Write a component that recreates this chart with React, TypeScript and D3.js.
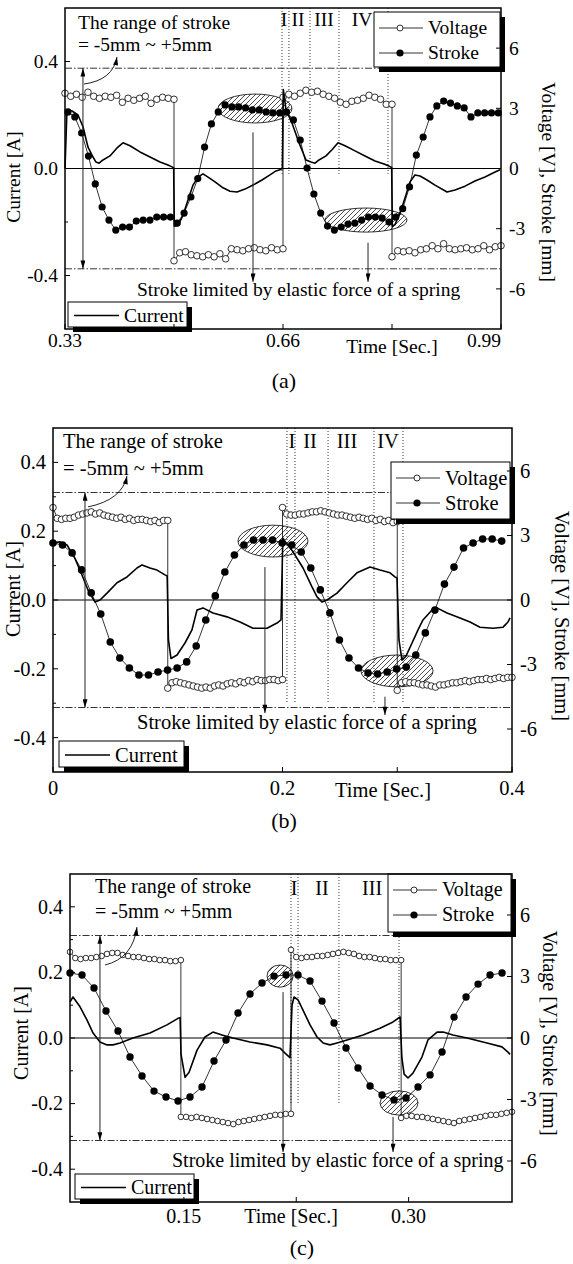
import React from "react";
import * as d3 from "d3";

const FONT = "'Liberation Serif', 'Times New Roman', serif";

// ---------- panel (a) ----------
const switchesA = [0.33, 0.495, 0.66, 0.825, 0.99];
const voltageA = [
  [3.75, 3.6, 3.7, 3.55, 3.8, 3.6, 3.5, 3.6, 3.55, 3.65, 3.3, 3.5, 3.4, 3.5, 3.6, 3.25, 3.45, 3.55, 3.5, 3.45],
  [-4.6, -4.2, -4.15, -4.3, -4.35, -4.4, -4.3, -4.4, -4.25, -4.5, -4.0, -4.05, -4.1, -4.0, -3.95, -4.05, -4.1, -3.95, -4.05, -4.0],
  [3.55, 3.7, 3.6, 3.75, 3.9, 3.8, 3.85, 3.7, 3.6, 3.5, 3.3, 3.2, 3.35, 3.4, 3.5, 3.65, 3.55, 3.45, 3.2, 3.2],
  [-4.4, -4.1, -4.15, -4.1, -4.2, -4.05, -4.0, -3.85, -4.0, -3.75, -4.0, -4.05, -4.0, -3.95, -4.05, -4.0, -3.85, -4.05, -3.9, -3.85],
];
const strokeStartA = 0.3345;
const strokeStepA = 0.01034;
const strokeA = [
  2.82, 2.57, 1.77, 0.62, -0.77, -1.92, -2.57, -3.07, -2.92, -2.92,
  -2.62, -2.57, -2.57, -2.42, -2.42, -2.42, -2.72, -2.22, -1.42, -0.5,
  1.07, 2.22, 2.82, 3.17, 3.07, 3.07, 3.02, 2.92, 2.92, 2.82,
  2.77, 2.77, 2.82, 2.42, 1.42, 0.02, -1.27, -2.22, -2.87, -3.07,
  -2.92, -2.77, -2.72, -2.57, -2.42, -2.42, -2.47, -2.67, -2.42, -2.0,
  -0.92, 0.67, 1.57, 2.57, 3.12, 3.36, 3.26, 3.12, 3.02, 2.57,
  2.77, 2.77, 2.77, 2.77,
];
const currentTimeA = [
  0.33, 0.333, 0.3406, 0.3497, 0.3572, 0.3648, 0.3724, 0.3769, 0.3815, 0.3875,
  0.3981, 0.4087, 0.4178, 0.4284, 0.4435, 0.4587, 0.4738, 0.4859, 0.492, 0.4945,
  0.4955, 0.5011, 0.5086, 0.5162, 0.5238, 0.5313, 0.5389, 0.5465, 0.5571, 0.5677,
  0.5798, 0.5904, 0.6025, 0.6146, 0.6282, 0.6403, 0.6494, 0.6554, 0.659,
  0.6605, 0.6645, 0.6736, 0.6842, 0.6948, 0.7024, 0.7085, 0.7145, 0.7251, 0.7342,
  0.7433, 0.7539, 0.769, 0.7841, 0.7993, 0.8129, 0.8205, 0.8245,
  0.8255, 0.8295, 0.8371, 0.8447, 0.8522, 0.8598, 0.8674, 0.878, 0.8901, 0.9083,
  0.9204, 0.9355, 0.9506, 0.9658, 0.9779, 0.9885,
];
const currentA = [
  0.0, 0.22, 0.215, 0.2, 0.156, 0.08, 0.043, 0.024, 0.02, 0.032,
  0.047, 0.077, 0.096, 0.085, 0.062, 0.043, 0.024, 0.013, 0.006, 0.002,
  -0.216, -0.212, -0.175, -0.118, -0.062, -0.032, -0.02, -0.032, -0.05, -0.07,
  -0.085, -0.088, -0.077, -0.062, -0.043, -0.024, -0.009, -0.005, 0.0,
  0.295, 0.22, 0.17, 0.096, 0.032, 0.024, 0.02, 0.032, 0.047, 0.07,
  0.096, 0.085, 0.066, 0.047, 0.028, 0.017, 0.009, 0.004,
  -0.216, -0.21, -0.167, -0.11, -0.05, -0.024, -0.028, -0.043, -0.062, -0.088,
  -0.08, -0.066, -0.047, -0.032, -0.017, -0.005,
];
const regionLinesA = [0.6585, 0.669, 0.7009, 0.7448, 0.8189];
const regionLabelTimeA = [0.6615, 0.6827, 0.7221, 0.7796];
const regionLabelsA = ["I", "II", "III", "IV"];
const xTicksA = [0.33, 0.66, 0.99];
const xTickLabelsA = ["0.33", "0.66", "0.99"];
const xMinorA = [0.495, 0.825];
const iTicksA = [0.4, 0, -0.4];
const iTickLabelsA = ["0.4", "0.0", "-0.4"];
const iMinorA = [0.2, -0.2];

// ---------- panel (b) ----------
const switchesB = [0, 0.1, 0.2, 0.3, 0.4];
const voltageB = [
  [4.3, 3.8, 3.75, 3.8, 3.8, 3.85, 3.95, 4.0, 4.05, 4.1, 4.0, 4.05, 3.95, 3.9, 3.85, 3.8, 3.85, 3.75, 3.8, 3.7, 3.75, 3.75, 3.7, 3.65, 3.7, 3.6, 3.7, 3.7],
  [-4.1, -3.85, -3.8, -3.85, -3.9, -3.95, -4.0, -4.05, -4.1, -4.05, -4.1, -4.0, -3.95, -4.0, -3.9, -3.85, -3.9, -3.8, -3.85, -3.75, -3.8, -3.7, -3.75, -3.75, -3.7, -3.7, -3.75, -3.7],
  [4.3, 4.0, 3.95, 3.95, 4.0, 4.0, 4.05, 4.1, 4.1, 4.15, 4.1, 4.05, 4.0, 3.95, 3.95, 3.9, 3.85, 3.8, 3.85, 3.8, 3.75, 3.8, 3.7, 3.75, 3.65, 3.7, 3.6, 3.65],
  [-4.2, -3.85, -3.8, -3.85, -3.85, -3.9, -3.95, -3.95, -4.0, -4.05, -3.95, -3.95, -3.9, -3.85, -3.85, -3.8, -3.75, -3.8, -3.75, -3.7, -3.7, -3.65, -3.7, -3.65, -3.6, -3.65, -3.6, -3.6],
];
const strokeStartB = 0;
const strokeStepB = 0.00832;
const strokeB = [
  2.65, 2.56, 2.19, 1.4, 0.33, -0.65, -1.95, -2.7, -3.16, -3.49,
  -3.49, -3.35, -3.26, -3.16, -2.88, -2.14, -0.93, 0.19, 1.3, 2.09,
  2.56, 2.79, 2.79, 2.79, 2.65, 2.56, 2.23, 1.49, 0.47, -0.6,
  -1.86, -2.7, -3.16, -3.4, -3.44, -3.35, -3.21, -3.12, -2.56, -1.53,
  -0.47, 0.74, 1.53, 2.42, 2.65, 2.84, 2.84, 2.74,
];
const currentTimeB = [
  0.0, 0.0061, 0.0122, 0.0192, 0.0235, 0.0305, 0.0366, 0.041, 0.0471, 0.0558,
  0.0645, 0.0732, 0.0776, 0.0845, 0.0906, 0.0976, 0.0995,
  0.1006, 0.1028, 0.1081, 0.115, 0.1211, 0.1255, 0.1307, 0.1394, 0.1516, 0.163,
  0.1743, 0.1865, 0.1952, 0.1987,
  0.2003, 0.2022, 0.2092, 0.2179, 0.2257, 0.2301, 0.2344, 0.2388, 0.2475, 0.2562,
  0.2649, 0.2763, 0.285, 0.2937, 0.298, 0.2998,
  0.3015, 0.3041, 0.3076, 0.3129, 0.3181, 0.3224, 0.3303, 0.3346, 0.3434, 0.3547,
  0.3634, 0.3721, 0.3834, 0.3922, 0.3965, 0.3983,
];
const currentB = [
  0.166, 0.169, 0.16, 0.12, 0.087, 0.029, -0.006, 0.0, 0.02, 0.05,
  0.067, 0.093, 0.102, 0.093, 0.087, 0.073, 0.07,
  -0.116, -0.17, -0.16, -0.125, -0.087, -0.029, -0.023, -0.038, -0.049, -0.064,
  -0.082, -0.082, -0.067, -0.058,
  0.18, 0.17, 0.14, 0.093, 0.038, 0.009, -0.006, 0.0, 0.02, 0.05,
  0.079, 0.096, 0.087, 0.079, 0.067, 0.064,
  -0.116, -0.175, -0.163, -0.125, -0.087, -0.058, -0.029, -0.023, -0.038, -0.052,
  -0.064, -0.079, -0.082, -0.079, -0.064, -0.052,
];
const regionLinesB = [0.2039, 0.2109, 0.2397, 0.2797, 0.305];
const regionLabelTimeB = [0.2083, 0.224, 0.2562, 0.2919];
const regionLabelsB = ["I", "II", "III", "IV"];
const xTicksB = [0, 0.2, 0.4];
const xTickLabelsB = ["0", "0.2", "0.4"];
const xMinorB = [0.1, 0.3];
const iTicksB = [0.4, 0.2, 0, -0.2, -0.4];
const iTickLabelsB = ["0.4", "0.2", "0.0", "-0.2", "-0.4"];
const iMinorB = [0.3, 0.1, -0.1, -0.3];

// ---------- panel (c) ----------
const switchesC = [0.074, 0.148, 0.2215, 0.295, 0.369];
const voltageC = [
  [4.2, 3.9, 3.85, 3.9, 3.9, 3.95, 4.0, 4.1, 4.15, 4.15, 4.05, 4.0, 3.95, 3.95, 3.9, 3.85, 3.85, 3.8, 3.8, 3.75, 3.75, 3.8],
  [-3.85, -3.85, -3.9, -3.85, -3.9, -3.95, -4.0, -4.05, -4.1, -4.15, -4.2, -4.1, -4.05, -4.0, -3.95, -3.9, -3.85, -3.8, -3.75, -3.75, -3.7, -3.7],
  [4.3, 3.95, 3.9, 3.95, 3.95, 4.0, 4.0, 4.05, 4.1, 4.15, 4.2, 4.15, 4.1, 4.0, 3.95, 3.95, 3.9, 3.85, 3.85, 3.8, 3.8, 3.8],
  [-3.9, -3.8, -3.8, -3.85, -3.85, -3.9, -3.95, -4.0, -4.05, -4.1, -4.15, -4.05, -4.0, -3.95, -3.9, -3.85, -3.8, -3.75, -3.75, -3.7, -3.65, -3.6],
];
const strokeStartC = 0.074;
const strokeStepC = 0.00801;
const strokeC = [
  3.17, 3.07, 2.44, 1.32, 0.34, -0.93, -1.85, -2.59, -2.88, -3.07,
  -2.88, -2.39, -1.12, -0.1, 1.22, 2.15, 2.68, 3.02, 3.07, 3.07,
  2.78, 1.8, 0.73, -0.49, -1.46, -2.34, -2.78, -3.02, -2.93, -2.39,
  -1.8, -0.68, 1.02, 2.0, 2.63, 3.07, 3.17,
];
const currentTimeC = [
  0.074, 0.076, 0.0807, 0.0853, 0.0894, 0.094, 0.0987, 0.1027, 0.1074, 0.116,
  0.1274, 0.1387, 0.1461, 0.1475,
  0.1481, 0.1508, 0.1534, 0.1588, 0.1641, 0.1694, 0.1754, 0.1828, 0.1941, 0.2055,
  0.2142, 0.2175, 0.2208,
  0.2222, 0.2235, 0.2262, 0.2295, 0.2342, 0.2389, 0.2429, 0.2475, 0.2522, 0.2589,
  0.2696, 0.2809, 0.2896, 0.2943,
  0.2955, 0.297, 0.2996, 0.3029, 0.3089, 0.3129, 0.319, 0.323, 0.3296, 0.339,
  0.3523, 0.3623, 0.3663, 0.3677,
];
const currentC = [
  0.11, 0.125, 0.095, 0.055, 0.015, -0.012, -0.021, -0.021, -0.015, 0.0,
  0.015, 0.04, 0.06, 0.062,
  -0.05, -0.12, -0.105, -0.037, 0.003, 0.018, 0.009, 0.0, -0.012, -0.021,
  -0.031, -0.046, -0.06,
  0.1, 0.125, 0.116, 0.085, 0.04, 0.003, -0.015, -0.021, -0.015, -0.006,
  0.009, 0.03, 0.049, 0.064,
  -0.06, -0.11, -0.122, -0.107, -0.058, -0.006, 0.018, 0.018, 0.009, 0.0,
  -0.015, -0.027, -0.043, -0.05,
];
const regionLinesC = [0.2215, 0.2262, 0.2535, 0.2936];
const regionLabelTimeC = [0.2235, 0.2422, 0.2756];
const regionLabelsC = ["I", "II", "III"];
const xTicksC = [0.15, 0.3];
const xTickLabelsC = ["0.15", "0.30"];
const xMinorC = [0.225];
const iTicksC = [0.4, 0.2, 0, -0.2, -0.4];
const iTickLabelsC = ["0.4", "0.2", "0.0", "-0.2", "-0.4"];
const iMinorC = [0.3, 0.1, -0.1, -0.3];

// shared right axis
const vTicks = [6, 3, 0, -3, -6];
const vTickLabels = ["6", "3", "0", "-3", "-6"];
const strokeLimit = 5;

// annotations in data units: ellipses [t, v, tHalf, vHalf], arrows [t, vFrom, vTo]
const ellipsesA = [[0.6176, 2.99, 0.056, 0.72], [0.7856, -2.57, 0.0621, 0.6]];
const ellipseArrowsA = [[0.6146, 1.8, -5.65], [0.7887, -3.7, -5.65]];
const curveA = [0.3588, 4.21, 0.4027, 4.41, 0.4087, 5.56];
const ellipsesB = [[0.1917, 2.74, 0.0305, 0.74], [0.2998, -3.3, 0.0314, 0.74]];
const ellipseArrowsB = [[0.1847, 1.53, -5.26], [0.2893, -4.5, -5.35]];
const curveB = [0.0305, 4.33, 0.0601, 4.65, 0.0645, 5.77];
const ellipsesC = [[0.2142, 3.02, 0.0087, 0.54], [0.2936, -3.17, 0.0127, 0.59]];
const ellipseArrowsC = [[0.2162, 2.24, -5.56], [0.2896, -3.85, -5.56]];
const curveC = [0.0974, 3.56, 0.116, 3.9, 0.1187, 5.41];

const panels = [
  {
    label: "(a)",
    box: { x0: 65, x1: 501, y0: 8, y1: 329 },
    xDomain: [0.33, 0.99], iDomain: [-0.6, 0.6], vDomain: [-8, 8], fs: 19.5,
    switches: switchesA, voltage: voltageA,
    strokeStart: strokeStartA, strokeStep: strokeStepA, stroke: strokeA,
    currentT: currentTimeA, currentI: currentA,
    regionLines: regionLinesA, regionLabelT: regionLabelTimeA, regionLabels: regionLabelsA, regionBottom: -0.02,
    xTicks: xTicksA, xTickLabels: xTickLabelsA, xMinor: xMinorA,
    iTicks: iTicksA, iTickLabels: iTickLabelsA, iMinor: iMinorA,
    ellipses: ellipsesA, ellipseArrows: ellipseArrowsA, curve: curveA, rangeArrowT: 0.3572,
    lay: {
      rangeX: 78, rangeY1: 29, rangeY2: 51, limitX: 137, limitY: 296, regionY: 26,
      xLabY: 347, lastEnd: true, timeX: 392, timeY: 353, panelX: 284, panelY: 388,
      leftX: 20, leftY: 177, rightX: 542, rightY: 182,
      leg: { x: 374, y: 12, w: 126, h: 55 }, legC: { x: 68, y: 302, w: 119, h: 25 },
      rV: 3.3, rS: 3.6,
    },
  },
  {
    label: "(b)",
    box: { x0: 53, x1: 512, y0: 428, y1: 772 },
    xDomain: [0, 0.4], iDomain: [-0.5, 0.5], vDomain: [-8, 8], fs: 20.5,
    switches: switchesB, voltage: voltageB,
    strokeStart: strokeStartB, strokeStep: strokeStepB, stroke: strokeB,
    currentT: currentTimeB, currentI: currentB,
    regionLines: regionLinesB, regionLabelT: regionLabelTimeB, regionLabels: regionLabelsB, regionBottom: -0.3,
    xTicks: xTicksB, xTickLabels: xTickLabelsB, xMinor: xMinorB,
    iTicks: iTicksB, iTickLabels: iTickLabelsB, iMinor: iMinorB,
    ellipses: ellipsesB, ellipseArrows: ellipseArrowsB, curve: curveB, rangeArrowT: 0.0279,
    lay: {
      rangeX: 63, rangeY1: 448, rangeY2: 475, limitX: 137, limitY: 729, regionY: 448,
      xLabY: 795, lastEnd: false, timeX: 383, timeY: 797, panelX: 284, panelY: 828,
      leftX: 20, leftY: 589, rightX: 555, rightY: 616,
      leg: { x: 391, y: 462, w: 119, h: 57 }, legC: { x: 59, y: 741, w: 125, h: 26 },
      rV: 3.3, rS: 3.8,
    },
  },
  {
    label: "(c)",
    box: { x0: 70, x1: 512, y0: 874, y1: 1202 },
    xDomain: [0.074, 0.369], iDomain: [-0.5, 0.5], vDomain: [-8, 8], fs: 20,
    switches: switchesC, voltage: voltageC,
    strokeStart: strokeStartC, strokeStep: strokeStepC, stroke: strokeC,
    currentT: currentTimeC, currentI: currentC,
    regionLines: regionLinesC, regionLabelT: regionLabelTimeC, regionLabels: regionLabelsC, regionBottom: -0.2,
    xTicks: xTicksC, xTickLabels: xTickLabelsC, xMinor: xMinorC,
    iTicks: iTicksC, iTickLabels: iTickLabelsC, iMinor: iMinorC,
    ellipses: ellipsesC, ellipseArrows: ellipseArrowsC, curve: curveC, rangeArrowT: 0.094,
    lay: {
      rangeX: 95, rangeY1: 893, rangeY2: 918, limitX: 172, limitY: 1167, regionY: 895,
      xLabY: 1223, lastEnd: false, timeX: 291, timeY: 1223, panelX: 302, panelY: 1255,
      leftX: 28, leftY: 1033, rightX: 543, rightY: 1033,
      leg: { x: 388, y: 874, w: 123, h: 58 }, legC: { x: 75, y: 1174, w: 119, h: 25 },
      rV: 2.8, rS: 3.7,
    },
  },
];

function Panel({ p }: { p: any }) {
  const { box, lay, fs } = p;
  const x = d3.scaleLinear().domain(p.xDomain).range([box.x0, box.x1]);
  const yI = d3.scaleLinear().domain(p.iDomain).range([box.y1, box.y0]);
  const yV = d3.scaleLinear().domain(p.vDomain).range([box.y1, box.y0]);

  const voltPts: [number, number][] = [];
  p.voltage.forEach((seg: number[], k: number) => {
    const s0 = p.switches[k];
    const s1 = p.switches[k + 1];
    seg.forEach((v, j) => voltPts.push([s0 + (j * (s1 - s0)) / (seg.length - 1), v]));
  });
  const strokePts: [number, number][] = p.stroke.map((v: number, i: number) => [p.strokeStart + i * p.strokeStep, v]);
  const curPts: [number, number][] = p.currentT.map((t: number, i: number) => [t, p.currentI[i]]);

  const lineV = d3.line<[number, number]>().x((d) => x(d[0])).y((d) => yV(d[1]));
  const lineI = d3.line<[number, number]>().x((d) => x(d[0])).y((d) => yI(d[1]));

  const [c0t, c0v, cct, ccv, c1t, c1v] = p.curve;
  const curvePath = `M${x(c0t)},${yV(c0v)} Q${x(cct)},${yV(ccv)} ${x(c1t)},${yV(c1v)}`;

  const leg = lay.leg;
  const legC = lay.legC;
  const tickLen = 5;

  return (
    <g fontFamily={FONT} fontSize={fs}>
      {/* stroke limit lines */}
      {[strokeLimit, -strokeLimit].map((v) => (
        <line key={v} x1={box.x0} x2={box.x1} y1={yV(v)} y2={yV(v)} stroke="#000" strokeWidth={0.8} strokeDasharray="7,2,1.5,2" />
      ))}
      {/* zero line */}
      <line x1={box.x0} x2={box.x1} y1={yI(0)} y2={yI(0)} stroke="#000" strokeWidth={1} />
      {/* region dotted lines */}
      {p.regionLines.map((t: number) => (
        <line key={t} x1={x(t)} x2={x(t)} y1={box.y0} y2={yI(p.regionBottom)} stroke="#000" strokeWidth={0.8} strokeDasharray="1,2" />
      ))}
      {p.regionLabels.map((s: string, i: number) => (
        <text key={s} x={x(p.regionLabelT[i])} y={lay.regionY} textAnchor="middle">{s}</text>
      ))}
      {/* hatched ellipses */}
      {p.ellipses.map((e: number[], i: number) => (
        <ellipse key={i} cx={x(e[0])} cy={yV(e[1])} rx={x(e[0] + e[2]) - x(e[0])} ry={yV(e[1] - e[3]) - yV(e[1])}
          fill="url(#hatch)" stroke="#000" strokeWidth={0.8} />
      ))}
      {/* voltage */}
      <path d={lineV(voltPts) || ""} fill="none" stroke="#000" strokeWidth={0.8} />
      {voltPts.map((d, i) => (
        <circle key={i} cx={x(d[0])} cy={yV(d[1])} r={lay.rV} fill="#fff" stroke="#000" strokeWidth={0.8} />
      ))}
      {/* stroke */}
      <path d={lineV(strokePts) || ""} fill="none" stroke="#000" strokeWidth={0.8} />
      {strokePts.map((d, i) => (
        <circle key={i} cx={x(d[0])} cy={yV(d[1])} r={lay.rS} fill="#000" />
      ))}
      {/* current */}
      <path d={lineI(curPts) || ""} fill="none" stroke="#000" strokeWidth={1.6} strokeLinejoin="round" />

      {/* annotations */}
      <line x1={x(p.rangeArrowT)} x2={x(p.rangeArrowT)} y1={yV(-strokeLimit)} y2={yV(strokeLimit)}
        stroke="#222" strokeWidth={1} markerStart="url(#arr)" markerEnd="url(#arr)" />
      <path d={curvePath} fill="none" stroke="#222" strokeWidth={1} markerEnd="url(#arr)" />
      {p.ellipseArrows.map((a: number[], i: number) => (
        <line key={i} x1={x(a[0])} x2={x(a[0])} y1={yV(a[1])} y2={yV(a[2])} stroke="#222" strokeWidth={1} markerEnd="url(#arr)" />
      ))}
      <text x={lay.rangeX} y={lay.rangeY1}>The range of stroke</text>
      <text x={lay.rangeX} y={lay.rangeY2}>= -5mm ~ +5mm</text>
      <text x={lay.limitX} y={lay.limitY}>Stroke limited by elastic force of a spring</text>

      {/* legend: voltage / stroke */}
      <rect x={leg.x + 5} y={leg.y + 5} width={leg.w} height={leg.h} fill="#000" />
      <rect x={leg.x} y={leg.y} width={leg.w} height={leg.h} fill="#fff" stroke="#000" strokeWidth={1} />
      <line x1={leg.x + 5} x2={leg.x + 49} y1={leg.y + 16} y2={leg.y + 16} stroke="#000" strokeWidth={0.8} />
      <circle cx={leg.x + 26} cy={leg.y + 16} r={3} fill="#fff" stroke="#000" strokeWidth={0.8} />
      <text x={leg.x + 54} y={leg.y + 16 + fs * 0.32}>Voltage</text>
      <line x1={leg.x + 5} x2={leg.x + 49} y1={leg.y + 41} y2={leg.y + 41} stroke="#000" strokeWidth={0.8} />
      <circle cx={leg.x + 26} cy={leg.y + 41} r={3.6} fill="#000" />
      <text x={leg.x + 54} y={leg.y + 41 + fs * 0.32}>Stroke</text>

      {/* legend: current */}
      <rect x={legC.x + 5} y={legC.y + 5} width={legC.w} height={legC.h} fill="#000" />
      <rect x={legC.x} y={legC.y} width={legC.w} height={legC.h} fill="#fff" stroke="#000" strokeWidth={1} />
      <line x1={legC.x + 6} x2={legC.x + 51} y1={legC.y + legC.h / 2 + 1} y2={legC.y + legC.h / 2 + 1} stroke="#000" strokeWidth={1.6} />
      <text x={legC.x + 56} y={legC.y + legC.h / 2 + 1 + fs * 0.32}>Current</text>

      {/* frame */}
      <rect x={box.x0} y={box.y0} width={box.x1 - box.x0} height={box.y1 - box.y0} fill="none" stroke="#000" strokeWidth={1.5} />

      {/* x ticks */}
      {p.xTicks.map((t: number, i: number) => {
        const last = lay.lastEnd && i === p.xTicks.length - 1;
        return (
          <g key={t}>
            <line x1={x(t)} x2={x(t)} y1={box.y1} y2={box.y1 - tickLen} stroke="#000" strokeWidth={1} />
            <text x={last ? box.x1 : x(t)} y={lay.xLabY} textAnchor={last ? "end" : "middle"}>{p.xTickLabels[i]}</text>
          </g>
        );
      })}
      {p.xMinor.map((t: number) => (
        <line key={t} x1={x(t)} x2={x(t)} y1={box.y1} y2={box.y1 - tickLen} stroke="#000" strokeWidth={1} />
      ))}
      {/* left ticks */}
      {p.iTicks.map((v: number, i: number) => (
        <g key={v}>
          <line x1={box.x0} x2={box.x0 + tickLen} y1={yI(v)} y2={yI(v)} stroke="#000" strokeWidth={1} />
          <text x={box.x0 - 7} y={yI(v)} dy="0.34em" textAnchor="end">{p.iTickLabels[i]}</text>
        </g>
      ))}
      {p.iMinor.map((v: number) => (
        <line key={v} x1={box.x0} x2={box.x0 + 3} y1={yI(v)} y2={yI(v)} stroke="#000" strokeWidth={1} />
      ))}
      {/* right ticks */}
      {vTicks.map((v, i) => (
        <g key={v}>
          <line x1={box.x1} x2={box.x1 - tickLen} y1={yV(v)} y2={yV(v)} stroke="#000" strokeWidth={1} />
          <text x={box.x1 + 8} y={yV(v)} dy="0.34em" textAnchor="start">{vTickLabels[i]}</text>
        </g>
      ))}

      {/* titles */}
      <text x={lay.timeX} y={lay.timeY} textAnchor="middle">Time [Sec.]</text>
      <text transform={`translate(${lay.leftX},${lay.leftY}) rotate(-90)`} textAnchor="middle">Current [A]</text>
      <text transform={`translate(${lay.rightX},${lay.rightY}) rotate(90)`} textAnchor="middle">Voltage [V], Stroke [mm]</text>
      <text x={lay.panelX} y={lay.panelY} textAnchor="middle" fontSize={22}>{p.label}</text>
    </g>
  );
}

export default function App() {
  return (
    <svg width={573} height={1264} style={{ position: "absolute", left: 0, top: 0, background: "#fff" }}>
      <defs>
        <pattern id="hatch" width={5} height={5} patternUnits="userSpaceOnUse">
          <path d="M-1,1 l2,-2 M0,5 l5,-5 M4,6 l2,-2" stroke="#000" strokeWidth={0.7} />
        </pattern>
        <marker id="arr" viewBox="0 0 10 6" refX={10} refY={3} markerWidth={9} markerHeight={5}
          orient="auto-start-reverse" markerUnits="userSpaceOnUse">
          <path d="M0,0 L10,3 L0,6 z" fill="#000" />
        </marker>
      </defs>
      <rect width={573} height={1264} fill="#fff" />
      {panels.map((p) => (
        <Panel key={p.label} p={p} />
      ))}
    </svg>
  );
}
